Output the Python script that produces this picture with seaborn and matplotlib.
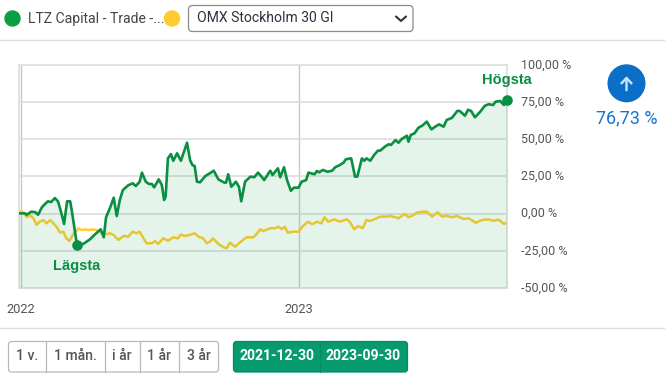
"""Fund vs index comparison chart, cumulative return in percent."""

import numpy as np
import pandas as pd
import seaborn as sns
import matplotlib
matplotlib.use("Agg")
import matplotlib.pyplot as plt
from matplotlib.patches import Circle, FancyBboxPatch, Rectangle

# --- data ---
START_DATE = "2021-12-30"
END_DATE = "2023-09-30"

fund_name = "LTZ Capital - Trade -..."
index_name = "OMX Stockholm 30 GI"

fund_days = [0, 8, 10, 16, 21, 25, 30, 35, 38, 42, 47, 51, 55, 59, 63, 67, 69, 73, 76, 84, 93, 100,
             107, 111, 114, 119, 124, 128, 132, 136, 143, 149, 153, 158, 161, 166, 170, 174, 177,
             183, 187, 190, 192, 195, 199, 202, 207, 212, 220, 224, 227, 230, 233, 237, 244, 250,
             255, 261, 268, 271, 274, 278, 284, 288, 291, 296, 303, 308, 313, 317, 321, 329, 332,
             339, 342, 347, 351, 356, 360, 366, 370, 376, 379, 387, 390, 393, 398, 404, 410, 414,
             420, 425, 428, 435, 440, 443, 449, 452, 455, 460, 465, 470, 473, 479, 484, 487, 493,
             497, 501, 508, 510, 513, 518, 523, 528, 534, 540, 545, 550, 556, 560, 567, 574, 577,
             584, 588, 592, 597, 604, 610, 615, 621, 624, 630, 635, 639]
fund_values = [0.2, 0.2, -0.7, 1.3, 1.1, -0.7, 4.3, 7.0, 8.3, 7.8, 10.5, 8.3, 1.3, -6.9, 8.3, 8.3,
               2.5, -11.0, -21.3, -20.4, -17.2, -13.7, -10.5, -15.9, -2.4, 3.6, 10.7, -1.6, 9.2,
               15.9, 19.1, 20.4, 18.6, 21.5, 27.6, 21.5, 20.0, 20.0, 17.7, 23.1, 19.3, 9.2, 11.4,
               37.2, 40.1, 35.6, 40.6, 35.6, 47.7, 36.1, 32.7, 32.1, 21.5, 21.1, 25.3, 27.2, 28.9,
               23.1, 21.1, 20.8, 26.5, 18.1, 21.5, 18.1, 8.3, 21.5, 24.9, 24.5, 27.6, 25.3, 22.6,
               28.9, 26.0, 30.5, 24.5, 31.2, 22.6, 15.4, 17.5, 17.5, 21.5, 22.6, 27.6, 26.5, 28.7,
               27.8, 29.4, 28.2, 28.9, 31.2, 32.7, 34.3, 36.6, 37.2, 24.9, 24.9, 37.2, 35.6, 37.2,
               35.6, 39.5, 42.4, 42.4, 45.0, 46.7, 46.2, 49.5, 47.7, 50.2, 52.4, 48.4, 52.9, 54.1,
               57.8, 59.2, 61.9, 56.7, 58.5, 60.1, 58.5, 63.0, 64.5, 69.1, 69.1, 65.9, 69.9, 69.1,
               64.8, 68.6, 72.6, 73.6, 73.1, 75.3, 75.8, 73.1, 76.73]

index_days = [0, 3, 7, 10, 14, 19, 23, 27, 32, 36, 41, 45, 49, 54, 58, 62, 66, 71, 78, 82, 87, 91,
              98, 104, 109, 115, 119, 124, 130, 137, 143, 149, 154, 158, 163, 167, 174, 178, 182,
              189, 195, 202, 208, 212, 217, 224, 230, 235, 241, 246, 250, 254, 261, 268, 272, 276,
              283, 292, 298, 307, 311, 316, 320, 329, 335, 340, 344, 348, 352, 359, 366, 372, 378,
              384, 390, 396, 400, 405, 413, 420, 429, 433, 439, 444, 450, 455, 460, 466, 473, 479,
              486, 493, 497, 505, 510, 515, 521, 528, 534, 541, 548, 554, 560, 567, 574, 582, 589,
              598, 606, 615, 621, 628, 635, 639]
index_values = [0.2, 1.8, 0.2, -2.4, -0.9, -3.1, -7.6, -5.4, -4.3, -6.5, -4.3, -6.5, -8.8, -12.8,
                -12.1, -16.6, -18.4, -13.7, -9.9, -11.0, -10.6, -11.0, -10.6, -11.5, -13.2, -13.7,
                -13.2, -14.4, -17.7, -15.0, -15.5, -12.1, -13.2, -12.1, -16.6, -19.9, -19.9, -18.4,
                -20.4, -16.6, -18.2, -15.9, -16.6, -14.1, -15.0, -14.3, -13.2, -15.5, -16.6, -19.9,
                -18.9, -16.6, -20.4, -22.6, -23.3, -19.5, -22.2, -18.2, -15.9, -15.9, -13.7, -10.5,
                -11.7, -9.8, -9.8, -8.8, -10.5, -8.8, -12.8, -12.1, -12.1, -8.3, -5.4, -7.1, -5.4,
                -6.5, -2.4, -5.4, -3.8, -5.4, -3.8, -5.4, -10.5, -8.3, -9.8, -4.3, -4.9, -3.6, -2.0,
                -2.0, -1.6, -2.4, -3.1, -0.2, -2.4, -1.4, 0.6, 1.3, 1.3, -2.0, 0.9, -2.0, -1.4,
                -2.4, -1.6, -3.6, -3.1, -6.1, -4.3, -3.8, -4.9, -4.0, -6.9, -5.8]

y_ticks = [-50, -25, 0, 25, 50, 75, 100]
y_labels = ["-50,00 %", "-25,00 %", "0,00 %", "25,00 %", "50,00 %", "75,00 %", "100,00 %"]
x_ticks = ["2022-01-01", "2023-01-01"]
x_labels = ["2022", "2023"]
total_return = "76,73 %"
range_buttons = ["1 v.", "1 mån.", "i år", "1 år", "3 år"]
date_buttons = [START_DATE, END_DATE]

GREEN = "#0a8f42"
YELLOW = "#ffcb2e"
BLUE = "#0b6fc8"
W, H = 665, 377


def to_frame(days, values):
    dates = pd.Timestamp(START_DATE) + pd.to_timedelta(days, unit="D")
    return pd.DataFrame({"date": dates, "value": values})


def pixel_axes(fig):
    """Overlay in page pixels, for the controls around the chart."""
    ui = fig.add_axes([0, 0, 1, 1], zorder=5)
    ui.set_xlim(0, W)
    ui.set_ylim(H, 0)
    ui.axis("off")
    ui.patch.set_alpha(0)
    return ui


def draw_controls(ui):
    ui.plot([0, W], [39.5, 39.5], color="#dcdcdc", lw=1)
    ui.plot([0, W], [327.5, 327.5], color="#dcdcdc", lw=1)

    # legend row
    ui.add_patch(Circle((12.5, 18.5), 7.5, color="#0a9e42"))
    ui.text(28, 18.5, fund_name, fontsize=10.1, color="#444444", va="center")
    ui.add_patch(Circle((172, 18.5), 7.5, color=YELLOW))
    ui.add_patch(FancyBboxPatch((188.5, 5.5), 224.5, 26, boxstyle="round,pad=0,rounding_size=4",
                                fc="white", ec="#8a8a8a", lw=0.9))
    ui.text(197, 18.5, index_name, fontsize=10.1, color="#2b3340", va="center")
    ui.plot([396, 401, 406], [16.5, 21, 16.5], color="#333333", lw=1.5)

    # return badge
    ui.add_patch(Circle((626.5, 83.3), 18.3, color=BLUE))
    ui.annotate("", xy=(626.5, 73.5), xytext=(626.5, 93),
                arrowprops=dict(arrowstyle="->,head_width=0.3,head_length=0.32",
                                color="#cfe3f6", lw=1.7))
    ui.text(626.5, 118, total_return, fontsize=13, color="#1a74cc", ha="center", va="center")

    # range buttons
    edges = [8.5, 45.5, 104.5, 139.5, 178.5, 218.5]
    ui.add_patch(FancyBboxPatch((edges[0], 341.5), edges[-1] - edges[0], 30.5,
                                boxstyle="round,pad=0,rounding_size=3",
                                fc="white", ec="#b9b9b9", lw=0.9))
    for i, label in enumerate(range_buttons):
        if i:
            ui.plot([edges[i], edges[i]], [341.5, 372], color="#b9b9b9", lw=0.9)
        ui.text((edges[i] + edges[i + 1]) / 2, 356.5, label, fontsize=10.1, color="#555555",
                ha="center", va="center", fontweight="medium")

    # date buttons
    edges = [233.5, 319.5, 407.5]
    ui.add_patch(FancyBboxPatch((edges[0], 341.5), edges[-1] - edges[0], 30.5,
                                boxstyle="round,pad=0,rounding_size=3",
                                fc="#069a6e", ec="#058a62", lw=0.9))
    ui.plot([edges[1], edges[1]], [341.5, 372], color="#058a62", lw=0.9)
    for i, label in enumerate(date_buttons):
        ui.text((edges[i] + edges[i + 1]) / 2, 356.5, label, fontsize=10.1, color="white",
                ha="center", va="center", fontweight="bold")


def main():
    sns.set_theme(style="white")
    plt.rcParams["font.family"] = ["Roboto", "DejaVu Sans"]

    fund = to_frame(fund_days, fund_values)
    index = to_frame(index_days, index_values)

    fig = plt.figure(figsize=(W / 100, H / 100), dpi=100, facecolor="white")
    ax = fig.add_axes([19 / W, 1 - 288 / H, 488 / W, 223 / H])

    # index goes under the fund's fill, which is what dulls it below the fund line
    sns.lineplot(data=index, x="date", y="value", color=YELLOW, lw=1.8, ax=ax, zorder=2)
    ax.fill_between(fund["date"], fund["value"], -50, color="#009a44", alpha=0.1, lw=0, zorder=3)
    sns.lineplot(data=fund, x="date", y="value", color=GREEN, lw=1.9, ax=ax, zorder=4)

    low = fund.loc[fund["value"].idxmin()]
    high = fund.loc[fund["value"].idxmax()]
    sns.scatterplot(x=[low["date"], high["date"]], y=[low["value"], high["value"]], color=GREEN,
                    s=58, lw=0, ax=ax, zorder=5, clip_on=False)
    ax.text(low["date"], -35, "Lägsta", fontsize=10.5, fontweight="bold", color=GREEN,
            family="Liberation Sans", ha="center", va="center", zorder=6)
    ax.text(high["date"], 90.2, "Högsta", fontsize=10.5, fontweight="bold",
            color=GREEN, family="Liberation Sans", ha="center", va="center", zorder=6)

    ax.set_xlim(pd.Timestamp(START_DATE), pd.Timestamp(END_DATE))
    ax.set_ylim(-50, 100)
    ax.set_xlabel("")
    ax.set_ylabel("")
    ax.set_xticks(pd.to_datetime(x_ticks), x_labels)
    ax.yaxis.tick_right()
    ax.set_yticks(y_ticks, y_labels)
    ax.tick_params(axis="x", length=0, pad=11, labelsize=9.3, labelcolor="#555555")
    ax.tick_params(axis="y", length=0, pad=10, labelsize=9, labelcolor="#555555")
    for label in ax.get_yticklabels():
        label.set_y(label.get_position()[1])
        label.set_va("center")
    ax.grid(axis="y", color="#dddddd", lw=1.2)
    ax.grid(axis="x", color="#c8c8c8", lw=1.0)
    ax.set_axisbelow(True)
    for spine in ax.spines.values():
        spine.set_color("#e2e2e2")
        spine.set_linewidth(1.4)

    draw_controls(pixel_axes(fig))

    fig.savefig("out.png", dpi=100)
    plt.close(fig)


if __name__ == "__main__":
    main()
